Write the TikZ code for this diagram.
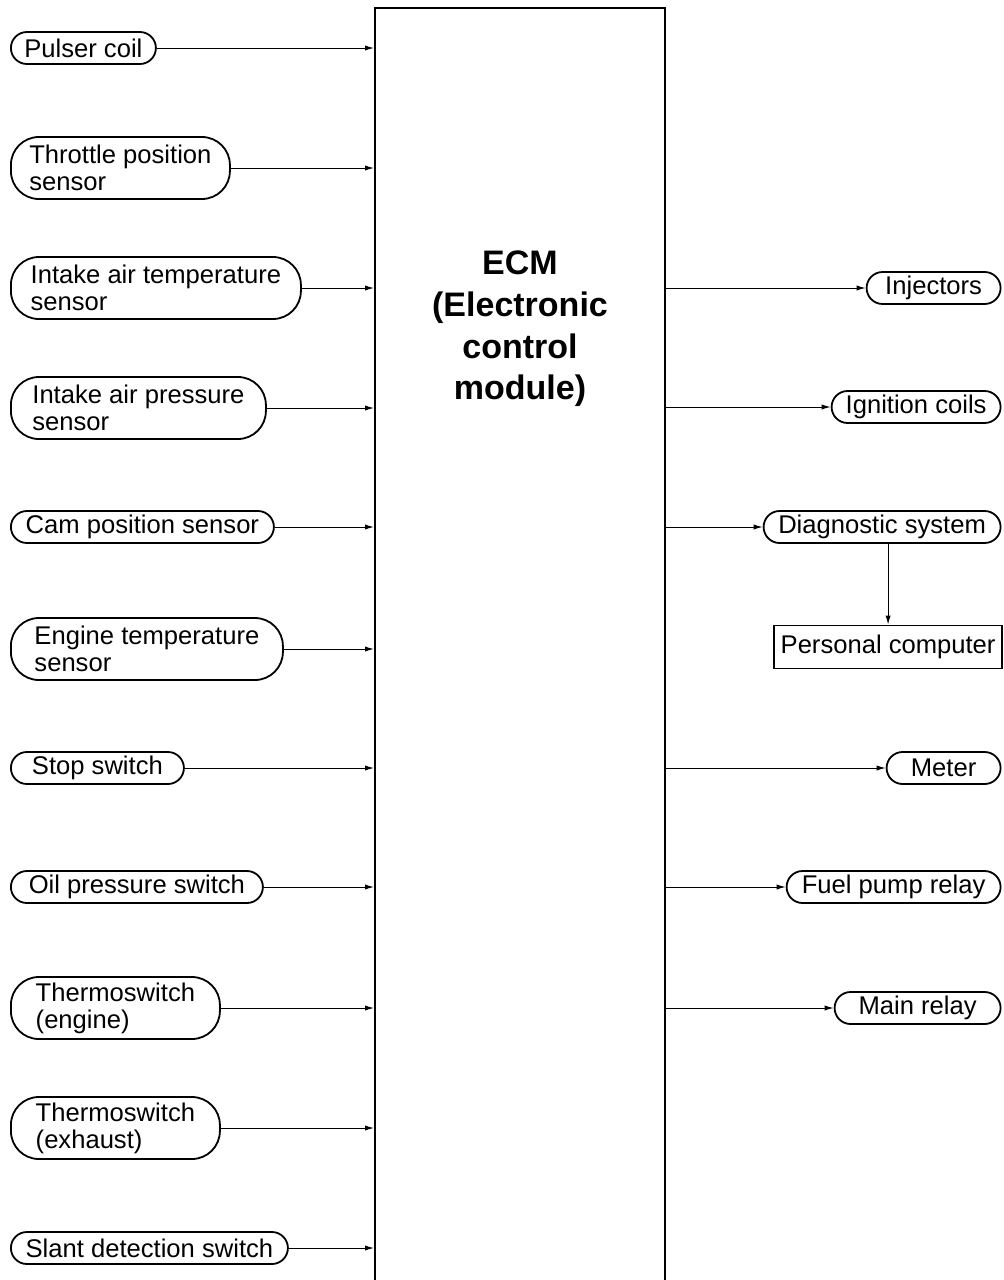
\documentclass[tikz,border=0pt]{standalone}
\usepackage{fontspec}
\setmainfont{Liberation Sans}
\usetikzlibrary{arrows.meta,positioning,calc}

\tikzset{
  insig/.style={draw, line width=0.9pt, rounded corners=8pt, anchor=west,
    align=left, inner xsep=0pt, inner ysep=0pt, minimum height=16pt,
    font=\fontsize{12.8}{13.6}\selectfont},
  insigtwo/.style={insig, rounded corners=14pt, minimum height=31pt},
  outsig/.style={insig, anchor=east},
  sig/.style={line width=0.5pt, -{Latex[length=4.5pt,width=2.6pt]}},
}

\begin{document}
\begin{tikzpicture}[x=0.5pt,y=-0.5pt]
  \useasboundingbox (0,0) rectangle (1003,1280);
  % ECM block (runs off the bottom edge)
  \node[draw, line width=1pt, minimum width=145pt, minimum height=641pt,
    inner sep=0pt] (ecm) at (520,649) {};
  \node[font=\bfseries\fontsize{17}{20.8}\selectfont, align=center]
    (ecmlabel) at (520,329) {ECM\\(Electronic\\control\\module)};
  % inputs
  \foreach \nm/\yy/\ww/\sty/\txt in {
    pulser/48/145/insig/{Pulser coil},
    throttle/168/219/insigtwo/{Throttle position\\sensor},
    iat/288/290/insigtwo/{Intake air temperature\\sensor},
    iap/408/255/insigtwo/{Intake air pressure\\sensor},
    cam/527/263/insig/{Cam position sensor},
    engtemp/649/272/insigtwo/{Engine temperature\\sensor},
    stop/768/173/insig/{Stop switch},
    oil/887/252/insig/{Oil pressure switch},
    thermeng/1008/209/insigtwo/{Thermoswitch\\(engine)},
    thermexh/1128/209/insigtwo/{Thermoswitch\\(exhaust)},
    slant/1248/277/insig/{Slant detection switch}}{
    \node[\sty, minimum width=\ww*0.5pt] (\nm) at (10,\yy) {\txt};
    \draw[sig] (\nm.east) -- (\nm.east -| ecm.west);
  }
  % outputs
  \foreach \nm/\yy/\ww/\txt in {
    inj/288/134/{Injectors},
    ign/407/169/{Ignition coils},
    diag/527/237/{Diagnostic system},
    meter/768/114/{Meter},
    fuel/887/214/{Fuel pump relay},
    mainrel/1008/166/{Main relay}}{
    \node[outsig, minimum width=\ww*0.5pt] (\nm) at (1001.5,\yy) {\txt};
    \draw[sig] (\nm.west -| ecm.east) -- (\nm.west);
  }
  \node[draw, line width=0.9pt, anchor=east, minimum width=114pt,
    minimum height=21.5pt, inner sep=0pt, font=\fontsize{12.8}{13.6}\selectfont]
    (pc) at (1003,647) {Personal computer};
  \draw[sig] (pc.north |- diag.south) -- (pc.north);
\end{tikzpicture}
\end{document}
